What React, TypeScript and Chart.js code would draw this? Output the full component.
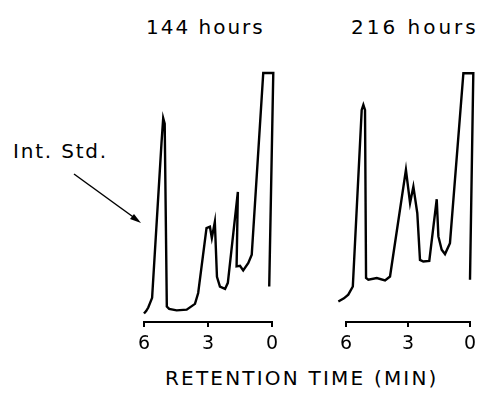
import React, { useEffect, useRef } from "react";
import { Chart, registerables } from "chart.js";

Chart.register(...registerables);

// Retention-time tick labels (minutes)
const timeTicks = [6, 3, 0];

// 144 hours trace: retention time (min) and detector response (arbitrary units, 100 = pen limit)
const time144 = [
  6.0, 5.9, 5.8, 5.62, 5.18, 5.1, 5.03, 4.93, 4.82, 4.47, 4.0, 3.61, 3.46, 3.07, 2.91,
  2.82, 2.68, 2.58, 2.44, 2.2, 2.07, 1.6, 1.66, 1.5, 1.35, 1.11, 0.95, 0.41, -0.06, 0.13,
];
const resp144 = [
  0.5, 1.5, 3.0, 7.0, 71.0, 81.3, 79.0, 3.4, 2.4, 1.8, 2.1, 4.5, 9.0, 35.8, 36.4,
  31.8, 38.4, 15.7, 11.6, 10.7, 13.2, 50.8, 20.0, 20.2, 18.3, 21.4, 24.8, 100, 100, 11.7,
];

// 216 hours trace
const time216 = [
  6.37, 6.1, 5.89, 5.67, 5.24, 5.16, 5.08, 5.03, 4.92, 4.51, 4.11, 3.87, 3.1, 2.9,
  2.74, 2.55, 2.42, 2.26, 1.97, 1.61, 1.53, 1.37, 1.21, 0.97, 0.32, -0.16, 0.0,
];
const resp216 = [
  5.5, 6.8, 8.3, 11.7, 84.7, 86.8, 84.7, 15.2, 14.5, 15.2, 14.2, 15.8, 59.9, 46.2,
  53.0, 42.0, 22.7, 22.0, 22.3, 47.8, 32.4, 26.9, 25.1, 29.6, 99.9, 99.9, 14.5,
];

const FONT = "'DejaVu Sans', 'Liberation Sans', sans-serif";

type PanelProps = {
  left: number;
  width: number;
  padLeft: number;
  padRight: number;
  times: number[];
  resp: number[];
};

function Panel({ left, width, padLeft, padRight, times, resp }: PanelProps) {
  const ref = useRef<HTMLCanvasElement | null>(null);
  useEffect(() => {
    if (!ref.current) return;
    const chart = new Chart(ref.current, {
      type: "scatter",
      data: {
        datasets: [
          {
            data: times.map((t, i) => ({ x: t, y: resp[i] })),
            showLine: true,
            borderColor: "#000",
            borderWidth: 2.4,
            pointRadius: 0,
            tension: 0,
            fill: false,
            clip: false as any,
          },
        ],
      },
      options: {
        animation: false,
        responsive: false,
        maintainAspectRatio: false,
        layout: { padding: { left: padLeft, right: padRight, top: 13, bottom: 3 } },
        plugins: { legend: { display: false }, tooltip: { enabled: false }, title: { display: false } },
        scales: {
          x: {
            type: "linear",
            min: 0,
            max: 6,
            reverse: true,
            afterBuildTicks: (scale: any) => {
              scale.ticks = timeTicks.map((v) => ({ value: v }));
            },
            afterFit: (scale: any) => {
              scale.height = 35;
            },
            grid: {
              drawOnChartArea: false,
              drawTicks: true,
              tickLength: 5,
              color: "#000",
              lineWidth: 2,
            },
            border: { display: true, color: "#000", width: 2 },
            ticks: {
              color: "#000",
              font: { family: FONT, size: 19 },
              padding: 6,
              maxRotation: 0,
              autoSkip: false,
              callback: (v: any) => String(v),
            },
          },
          y: { display: false, min: -3, max: 100 },
        },
      },
    });
    return () => chart.destroy();
  }, []);
  return (
    <canvas
      ref={ref}
      width={width}
      height={300}
      style={{ position: "absolute", left, top: 60, width, height: 300 }}
    />
  );
}

const textStyle: React.CSSProperties = {
  position: "absolute",
  fontFamily: FONT,
  fontSize: 20,
  lineHeight: "20px",
  color: "#000",
  whiteSpace: "nowrap",
};

export default function App() {
  return (
    <div
      style={{
        position: "absolute",
        left: 0,
        top: 0,
        width: 485,
        height: 397,
        background: "#fff",
        overflow: "hidden",
      }}
    >
      <div style={{ ...textStyle, left: 146, top: 17, letterSpacing: 2 }}>144 hours</div>
      <div style={{ ...textStyle, left: 351, top: 17, letterSpacing: 3 }}>216 hours</div>
      <div style={{ ...textStyle, left: 13, top: 141, letterSpacing: 1.8 }}>Int. Std.</div>
      <svg
        width={485}
        height={397}
        style={{ position: "absolute", left: 0, top: 0, pointerEvents: "none" }}
      >
        <line x1={74} y1={174} x2={136} y2={219} stroke="#000" strokeWidth={1.5} />
        <polygon points="141,223 130,219 134,214" fill="#000" />
      </svg>
      <Panel left={124} width={168} padLeft={20} padRight={20} times={time144} resp={resp144} />
      <Panel left={326} width={159} padLeft={20} padRight={15} times={time216} resp={resp216} />
      <div style={{ ...textStyle, left: 165, top: 368, letterSpacing: 2.2 }}>RETENTION TIME (MIN)</div>
    </div>
  );
}
